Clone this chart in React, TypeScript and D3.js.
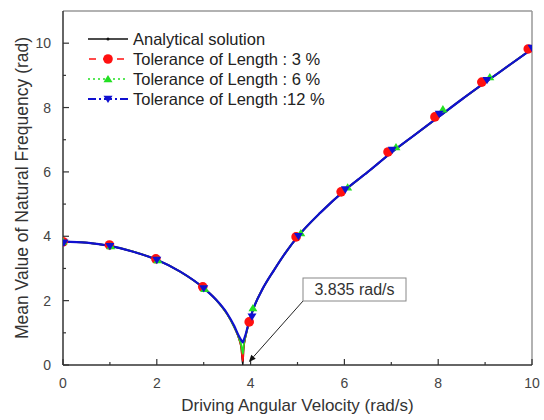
import React from "react";
import * as d3 from "d3";

// ---- data ----
const xTicksMajor = [0, 2, 4, 6, 8, 10];
const xTicksMinor = [1, 3, 5, 7, 9];
const yTicksMajor = [0, 2, 4, 6, 8, 10];
const yTicksMinor = [1, 3, 5, 7, 9];

const lineX = [0, 0.5, 1, 1.5, 2, 2.5, 3, 3.25, 3.5, 3.65, 3.75, 3.8, 3.835, 3.85, 3.9, 3.95, 4, 4.1, 4.25, 4.5, 4.75, 5, 5.5, 6, 6.5, 7, 7.5, 8, 8.5, 9, 9.5, 10];
const analyticY = [3.835, 3.8, 3.7, 3.52, 3.27, 2.9, 2.39, 2.05, 1.58, 1.18, 0.82, 0.52, 0, 0.45, 0.92, 1.22, 1.48, 1.9, 2.35, 2.95, 3.5, 3.98, 4.75, 5.42, 6.0, 6.6, 7.15, 7.7, 8.25, 8.78, 9.3, 9.82];
const tol3Y = [3.835, 3.8, 3.7, 3.52, 3.27, 2.9, 2.39, 2.05, 1.58, 1.18, 0.83, 0.55, 0.12, 0.5, 0.93, 1.23, 1.48, 1.9, 2.35, 2.95, 3.5, 3.98, 4.75, 5.42, 6.0, 6.6, 7.15, 7.7, 8.25, 8.78, 9.3, 9.82];
const tol6Y = [3.835, 3.8, 3.7, 3.52, 3.27, 2.9, 2.39, 2.05, 1.58, 1.18, 0.85, 0.62, 0.35, 0.58, 0.94, 1.24, 1.49, 1.9, 2.35, 2.95, 3.5, 3.98, 4.75, 5.42, 6.0, 6.6, 7.15, 7.7, 8.25, 8.78, 9.3, 9.82];
const tol12Y = [3.835, 3.8, 3.7, 3.52, 3.27, 2.9, 2.39, 2.05, 1.6, 1.22, 0.9, 0.77, 0.7, 0.76, 0.98, 1.26, 1.5, 1.9, 2.35, 2.95, 3.5, 3.98, 4.75, 5.42, 6.0, 6.6, 7.15, 7.7, 8.25, 8.78, 9.3, 9.82];

const tol3MarkX = [0, 0.99, 1.98, 2.98, 3.97, 4.97, 5.93, 6.93, 7.93, 8.93, 9.92];
const tol3MarkY = [3.83, 3.73, 3.3, 2.43, 1.34, 3.98, 5.38, 6.62, 7.71, 8.79, 9.82];
const tol6MarkX = [0, 1.02, 2.02, 3.02, 4.05, 5.07, 6.07, 7.1, 8.1, 9.1, 10.05];
const tol6MarkY = [3.84, 3.7, 3.26, 2.37, 1.77, 4.1, 5.52, 6.77, 7.95, 8.95, 9.95];
const tol12MarkX = [0.02, 1.0, 2.0, 3.0, 4.03, 5.02, 6.02, 7.02, 8.02, 9.04, 10.0];
const tol12MarkY = [3.8, 3.69, 3.26, 2.38, 1.5, 4.0, 5.45, 6.68, 7.8, 8.85, 9.85];

const legendLabels = ["Analytical solution", "Tolerance of Length : 3 %", "Tolerance of Length : 6 %", "Tolerance of Length :12 %"];
const annotationText = "3.835 rad/s";
const annotationX = 3.835;
const annotationY = 0;

const FONT = "'Liberation Sans', Arial, sans-serif";
const RED = "#ff1010";
const GREEN = "#22e022";
const BLUE = "#1010d0";

function tri(cx: number, cy: number, s: number, up: boolean) {
  const h = s * 0.9;
  if (up) return `M${cx},${cy - h} L${cx + s},${cy + h * 0.8} L${cx - s},${cy + h * 0.8} Z`;
  return `M${cx},${cy + h} L${cx + s},${cy - h * 0.8} L${cx - s},${cy - h * 0.8} Z`;
}

export default function App() {
  const W = 544, H = 420;
  const left = 63, right = 532, top = 11, bottom = 365;
  const x = d3.scaleLinear().domain([0, 10]).range([left, right]);
  const y = d3.scaleLinear().domain([0, 11]).range([bottom, top]);

  const mk = (ys: number[]) =>
    d3.line<number>().x((_, i) => x(lineX[i])).y((d) => y(d)).curve(d3.curveMonotoneX)(ys) || "";

  const lx1 = 88, lx2 = 128, ltx = 133;
  const rows = [39, 59, 79, 99];

  const tipX = x(annotationX) + 6, tipY = y(annotationY) - 3;
  const boxX = 303, boxY = 278, boxW = 103, boxH = 23;
  const ang = Math.atan2(tipY - (boxY + boxH), tipX - boxX);
  const ah = 7, aw = 3;
  const ax = tipX, ay = tipY;
  const bx = ax - ah * Math.cos(ang), by = ay - ah * Math.sin(ang);
  const arrowPath = `M${ax},${ay} L${bx + aw * Math.sin(ang)},${by - aw * Math.cos(ang)} L${bx - aw * Math.sin(ang)},${by + aw * Math.cos(ang)} Z`;

  return (
    <svg width={W} height={H} style={{ position: "absolute", left: 0, top: 0, background: "#fff" }} fontFamily={FONT}>
      <defs>
        <clipPath id="plot">
          <rect x={left} y={top} width={right - left} height={bottom - top} />
        </clipPath>
      </defs>
      <rect x={0} y={0} width={W} height={H} fill="#fff" />

      {/* frame */}
      <line x1={left} y1={top} x2={right} y2={top} stroke="#999" strokeWidth={1.5} />
      <line x1={right} y1={top} x2={right} y2={bottom} stroke="#999" strokeWidth={1.5} />
      <line x1={left} y1={top} x2={left} y2={bottom} stroke="#333" strokeWidth={1.5} />
      <line x1={left} y1={bottom} x2={right} y2={bottom} stroke="#333" strokeWidth={1.5} />

      {/* ticks */}
      {xTicksMajor.map((t) => (
        <g key={"xM" + t}>
          <line x1={x(t)} x2={x(t)} y1={bottom} y2={bottom - 6} stroke="#333" strokeWidth={1.2} />
          <text x={x(t)} y={388} textAnchor="middle" fontSize={14} fill="#444">{t}</text>
        </g>
      ))}
      {xTicksMinor.map((t) => (
        <line key={"xm" + t} x1={x(t)} x2={x(t)} y1={bottom} y2={bottom - 3} stroke="#333" strokeWidth={1.2} />
      ))}
      {yTicksMajor.map((t) => (
        <g key={"yM" + t}>
          <line x1={left} x2={left + 6} y1={y(t)} y2={y(t)} stroke="#333" strokeWidth={1.2} />
          <text x={51} y={y(t) + 5} textAnchor="end" fontSize={14} fill="#444">{t}</text>
        </g>
      ))}
      {yTicksMinor.map((t) => (
        <line key={"ym" + t} x1={left} x2={left + 3} y1={y(t)} y2={y(t)} stroke="#333" strokeWidth={1.2} />
      ))}

      {/* axis titles */}
      <text x={(left + right) / 2} y={411} textAnchor="middle" fontSize={17} fill="#333">Driving Angular Velocity (rad/s)</text>
      <text transform={`translate(28,${(top + bottom) / 2}) rotate(-90)`} textAnchor="middle" fontSize={17.5} fill="#333">Mean Value of Natural Frequency (rad)</text>

      {/* data */}
      <g clipPath="url(#plot)">
        <path d={mk(analyticY)} fill="none" stroke="#111" strokeWidth={1.5} />
        <path d={mk(tol3Y)} fill="none" stroke={RED} strokeWidth={1.8} />
        <path d={mk(tol6Y)} fill="none" stroke={GREEN} strokeWidth={1.8} />
        <path d={mk(tol12Y)} fill="none" stroke={BLUE} strokeWidth={2.2} />
        {tol3MarkX.map((v, i) => (
          <circle key={"r" + i} cx={x(v)} cy={y(tol3MarkY[i])} r={4.8} fill={RED} />
        ))}
        {tol6MarkX.map((v, i) => (
          <path key={"g" + i} d={tri(x(v), y(tol6MarkY[i]), 4.5, true)} fill={GREEN} />
        ))}
        {tol12MarkX.map((v, i) => (
          <path key={"b" + i} d={tri(x(v), y(tol12MarkY[i]), 4.5, false)} fill={BLUE} />
        ))}
      </g>

      {/* annotation */}
      <line x1={boxX} y1={boxY + boxH} x2={bx} y2={by} stroke="#222" strokeWidth={1} />
      <path d={arrowPath} fill="#111" />
      <rect x={boxX} y={boxY} width={boxW} height={boxH} fill="#fff" stroke="#888" strokeWidth={1} />
      <text x={boxX + boxW / 2} y={boxY + 17} textAnchor="middle" fontSize={16} fill="#333">{annotationText}</text>

      {/* legend */}
      <g>
        <line x1={lx1} x2={lx2} y1={rows[0]} y2={rows[0]} stroke="#111" strokeWidth={1.3} />
        <circle cx={(lx1 + lx2) / 2} cy={rows[0]} r={1.5} fill="#111" />
        <line x1={lx1} x2={lx2} y1={rows[1]} y2={rows[1]} stroke={RED} strokeWidth={1.6} strokeDasharray="7,7" strokeDashoffset={-1} />
        <circle cx={(lx1 + lx2) / 2} cy={rows[1]} r={4.8} fill={RED} />
        <line x1={lx1} x2={lx2} y1={rows[2]} y2={rows[2]} stroke={GREEN} strokeWidth={1.6} strokeDasharray="2,3" />
        <path d={tri((lx1 + lx2) / 2, rows[2], 4.5, true)} fill={GREEN} />
        <line x1={lx1} x2={lx2} y1={rows[3]} y2={rows[3]} stroke={BLUE} strokeWidth={1.8} strokeDasharray="8,3,2,3" />
        <path d={tri((lx1 + lx2) / 2, rows[3], 4.5, false)} fill={BLUE} />
        {legendLabels.map((l, i) => (
          <text key={l} x={ltx} y={rows[i] + 5.5} fontSize={16.5} fill="#222">{l}</text>
        ))}
      </g>
    </svg>
  );
}
